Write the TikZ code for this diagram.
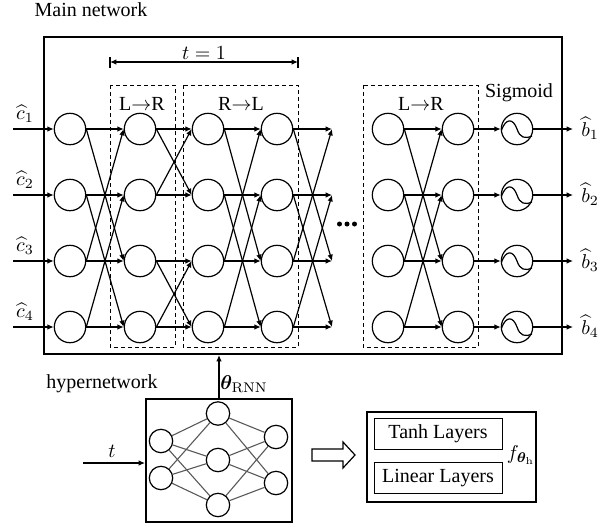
\documentclass[tikz,border=0pt]{standalone}
\usepackage{amsmath}
\usepackage[no-math]{fontspec}
\setmainfont{Liberation Serif}
\usepackage{bm}
\usetikzlibrary{arrows.meta}

\begin{document}
\begin{tikzpicture}[x=0.5pt,y=-0.5pt,
  neuron/.style={circle,draw,line width=0.6pt,minimum size=15.7pt,inner sep=0pt},
  hnode/.style={circle,draw,line width=0.6pt,minimum size=11.7pt,inner sep=0pt},
  conn/.style={line width=0.6pt,-{Latex[length=3.2pt,width=2.8pt]}},
  wire/.style={line width=0.55pt,draw=black!65},
  stage/.style={draw,dash pattern=on 2pt off 1.5pt,line width=0.5pt},
  lbl/.style={inner sep=0pt},
  frame/.style={draw,line width=1pt,inner sep=0pt},
  layerbox/.style={draw,line width=0.5pt,inner sep=0pt,minimum width=64pt,minimum height=15.5pt}]

\useasboundingbox (0,0) rectangle (615,525);

% main network frame and stage boxes
\node[frame,minimum width=259pt,minimum height=158.5pt] (main) at (303,195.5) {};
\draw[stage] (110,85) rectangle (175,347);
\draw[stage] (183,85) rectangle (298,347);
\draw[stage] (363,85) rectangle (478,347);

\node[lbl] (mainlbl) at (91,10) {Main network};
\node[lbl] (lr1) at (142,104) {L$\rightarrow$R};
\node[lbl] (rl) at (241,104) {R$\rightarrow$L};
\node[lbl] (lr2) at (421,104) {L$\rightarrow$R};
\node[lbl] (sig) at (519,93) {Sigmoid};

% time-step span
\coordinate (tl) at (110,62);
\coordinate (tr) at (298,62);
\draw[line width=0.6pt] (110,57) -- (110,68) (298,57) -- (298,68);
\draw[line width=0.6pt,{Latex[length=3.2pt,width=2.8pt]}-{Latex[length=3.2pt,width=2.8pt]}] (tl) -- (tr);
\node[lbl] (tone) at (204,53) {$t=1$};

% neurons
\foreach \r/\y in {1/129,2/195,3/261,4/327} {
  \foreach \c/\x in {0/70,1/140,2/208,3/277,5/388,6/458}
    \node[neuron] (n\c-\r) at (\x,\y) {};
  \node[neuron] (s\r) at (517,\y) {};
  \draw[line width=0.6pt,shift={(517,\y)}]
    (-15.5,1) .. controls (-11,-11) and (-4,-11) .. (0,0)
    .. controls (3,9) and (8,10) .. (15,7);
  \coordinate (e\r) at (332,\y);
  \coordinate (in\r) at (13,\y);
  \coordinate (out\r) at (573,\y);
  \node[lbl] (c\r) at (25,\y-15) {$\widehat{c}_\r$};
  \node[lbl,anchor=west] (b\r) at (581,\y-1) {$\widehat{b}_\r$};
  % straight connections
  \draw[conn] (in\r) -- (n0-\r.west);
  \draw[conn] (n0-\r.east) -- (n1-\r.west);
  \draw[conn] (n1-\r.east) -- (n2-\r.west);
  \draw[conn] (n2-\r.east) -- (n3-\r.west);
  \draw[conn] (n3-\r.east) -- (e\r);
  \draw[conn] (n5-\r.east) -- (n6-\r.west);
  \draw[conn] (n6-\r.east) -- (s\r.west);
  \draw[conn] (s\r.east) -- (out\r);
}

% crossing connections, stride 2
\foreach \a/\b in {1/3,2/4,3/1,4/2} {
  \draw[conn] (n0-\a.east) -- (n1-\b.west);
  \draw[conn] (n2-\a.east) -- (n3-\b.west);
  \draw[conn] (n3-\a.east) -- (e\b);
  \draw[conn] (n5-\a.east) -- (n6-\b.west);
}
% crossing connections, stride 1
\foreach \a/\b in {1/2,2/1,3/4,4/3}
  \draw[conn] (n1-\a.east) -- (n2-\b.west);

% ellipsis between stages
\foreach \x in {339.5,347,354.5}
  \fill (\x,224) circle[radius=1.25pt];

% hypernetwork
\node[frame,minimum width=73pt,minimum height=61.5pt] (hyper) at (219,460.5) {};
\node[lbl] (hyperlbl) at (102,384) {hypernetwork};
\node[hnode] (h1-1) at (161,441) {};
\node[hnode] (h1-2) at (161,478) {};
\node[hnode] (h2-1) at (218,413.5) {};
\node[hnode] (h2-2) at (218,460) {};
\node[hnode] (h2-3) at (218,505) {};
\node[hnode] (h3-1) at (276,437) {};
\node[hnode] (h3-2) at (276,483) {};
\foreach \i in {1,2}
  \foreach \j in {1,2,3} {
    \draw[wire] (h1-\i) -- (h2-\j);
    \draw[wire] (h2-\j) -- (h3-\i);
  }

\coordinate (tin) at (83,463);
\draw[conn] (tin) -- (tin -| hyper.west);
\node[lbl] (tlbl) at (112,451) {$t$};

\draw[conn] (hyper.north) -- (hyper.north |- main.south);
\node[lbl] (theta) at (244,384) {$\bm{\theta}_{\mathrm{RNN}}$};

% hollow arrow and layer composition
\draw[line width=0.6pt] (312,449) -- (343,449) -- (343,442) -- (355,455)
  -- (343,468) -- (343,461) -- (312,461) -- cycle;
\node[frame,minimum width=84.5pt,minimum height=45pt] (fbox) at (451.5,457) {};
\node[layerbox] (tanh) at (438,433.5) {Tanh Layers};
\node[layerbox] (linear) at (438,478) {Linear Layers};
\node[lbl] (flbl) at (521,455) {$f_{\bm{\theta}_{\mathrm{h}}}$};

\end{tikzpicture}
\end{document}
